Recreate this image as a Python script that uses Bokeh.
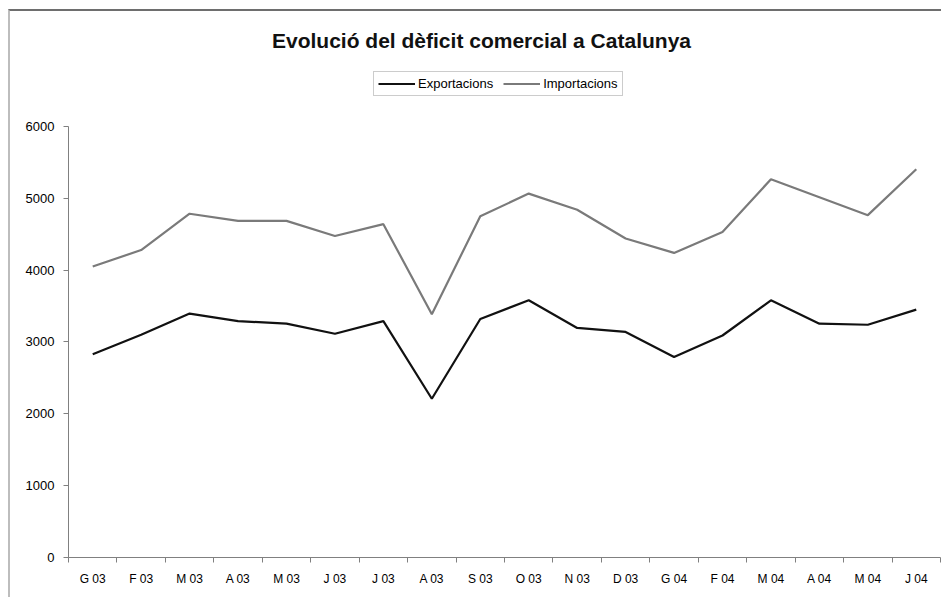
from bokeh.plotting import figure
from bokeh.models import Range1d, FixedTicker, Legend, LegendItem, Label
from bokeh.embed import file_html
from bokeh.resources import INLINE

title_text = "Evolució del dèficit comercial a Catalunya"
months = ["G 03", "F 03", "M 03", "A 03", "M 03", "J 03", "J 03", "A 03", "S 03",
          "O 03", "N 03", "D 03", "G 04", "F 04", "M 04", "A 04", "M 04", "J 04"]
exportacions = [2830, 3100, 3395, 3290, 3255, 3115, 3290, 2210, 3320,
                3580, 3195, 3140, 2790, 3090, 3580, 3255, 3240, 3450]
importacions = [4050, 4280, 4785, 4685, 4685, 4475, 4640, 3385, 4750,
                5065, 4840, 4440, 4240, 4530, 5265, 5015, 4765, 5405]
y_ticks = [0, 1000, 2000, 3000, 4000, 5000, 6000]

FONT = "Liberation Sans"
idx = list(range(len(months)))

p = figure(width=933, height=588, output_backend="svg", toolbar_location=None,
           x_range=Range1d(-0.5, len(months) - 0.5), y_range=Range1d(0, 7600),
           min_border_left=58, min_border_right=3, min_border_top=0, min_border_bottom=42)
p.styles = {"margin-left": "8px", "margin-top": "9px",
            "border-top": "2px solid #6e6e6e", "border-left": "2px solid #bdbdbd"}
p.outline_line_color = None
p.xgrid.visible = False
p.ygrid.visible = False
p.background_fill_color = "white"
p.border_fill_color = "white"

r_exp = p.line(idx, exportacions, line_color="#111111", line_width=2.2)
r_imp = p.line(idx, importacions, line_color="#7a7a7a", line_width=2.2)

# x axis
xa = p.xaxis[0]
xa.ticker = FixedTicker(ticks=idx, minor_ticks=[i - 0.5 for i in range(len(months) + 1)])
xa.major_label_overrides = {i: m for i, m in zip(idx, months)}
xa.major_tick_out = 0
xa.major_tick_in = 0
xa.minor_tick_out = 5
xa.minor_tick_in = 0
xa.minor_tick_line_color = "#808080"
xa.axis_line_color = "#808080"
xa.major_label_text_font = FONT
xa.major_label_text_font_size = "12px"
xa.major_label_text_color = "black"
xa.major_label_standoff = 9

# y axis
ya = p.yaxis[0]
ya.ticker = FixedTicker(ticks=y_ticks)
ya.bounds = (0, 6000)
ya.major_tick_out = 5
ya.major_tick_in = 0
ya.minor_tick_out = 0
ya.minor_tick_in = 0
ya.major_tick_line_color = "#808080"
ya.axis_line_color = "#808080"
ya.major_label_text_font = FONT
ya.major_label_text_font_size = "13px"
ya.major_label_text_color = "black"
ya.major_label_standoff = 9

legend = Legend(items=[LegendItem(label="Exportacions", renderers=[r_exp]),
                       LegendItem(label="Importacions", renderers=[r_imp])],
                orientation="horizontal", location=(305, 461),
                border_line_color="#9a9a9a", border_line_width=1,
                background_fill_color="white", background_fill_alpha=1,
                padding=4, margin=0, spacing=10, label_standoff=3,
                glyph_width=37, glyph_height=15, label_height=15,
                label_text_font=FONT, label_text_font_size="13px",
                label_text_color="black")
p.add_layout(legend, "center")

title = Label(x=413, y=517, x_units="screen", y_units="screen", text=title_text,
              text_align="center", text_baseline="middle",
              text_font=FONT, text_font_size="21px", text_font_style="bold",
              text_color="#111111")
p.add_layout(title)

open("out.html", "w").write(file_html(p, INLINE))
